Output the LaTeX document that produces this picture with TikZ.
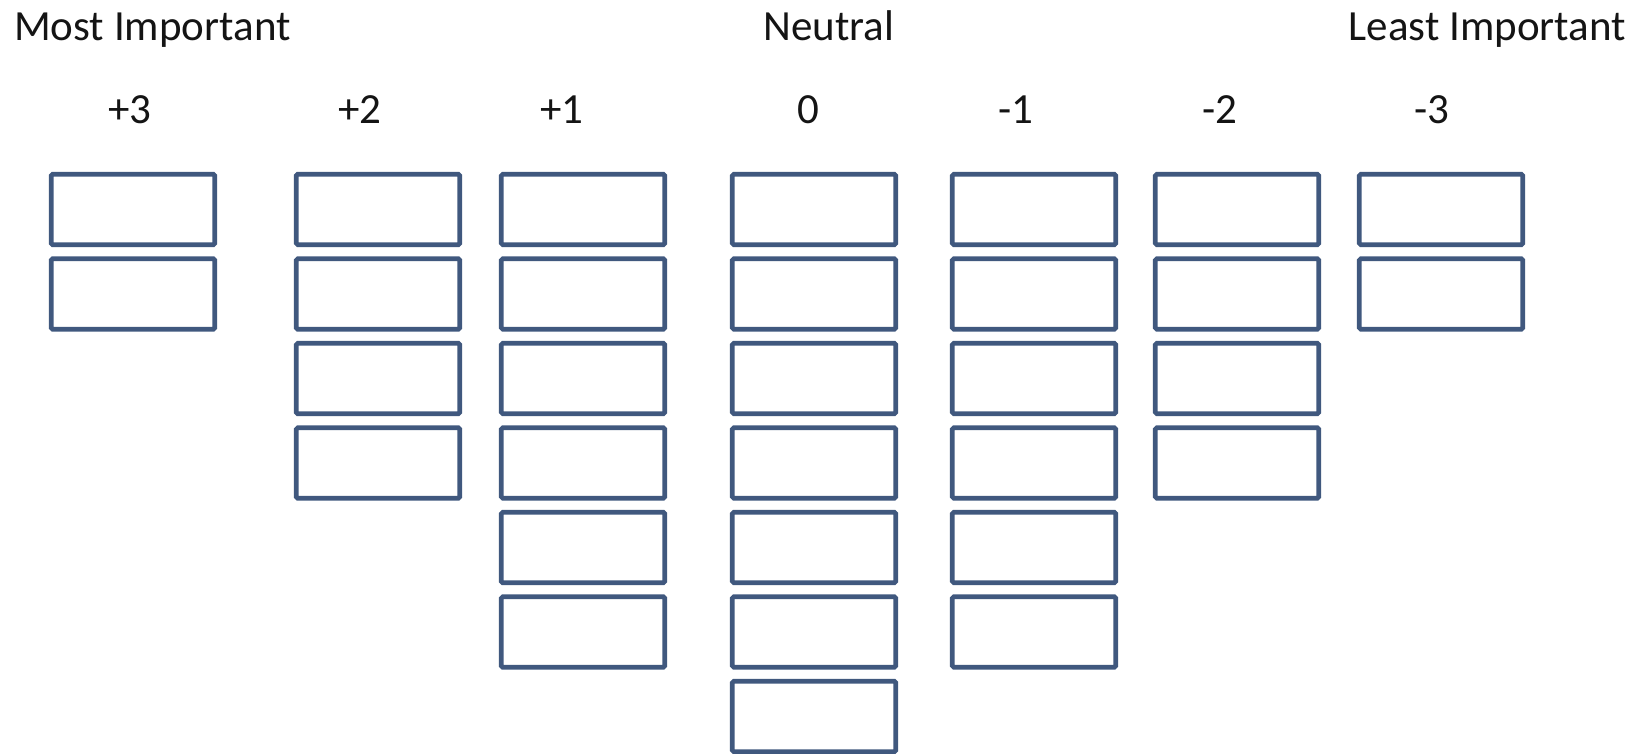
\documentclass[tikz,border=0pt]{standalone}
\usepackage{fontspec}
\setmainfont{Carlito}
\definecolor{boxblue}{RGB}{64,88,126}
\definecolor{txt}{RGB}{20,20,20}
\begin{document}
\begin{tikzpicture}[x=1pt,y=-1pt,
  slot/.style={draw=boxblue,line width=4.6pt,rounded corners=1.5pt,minimum width=163.5pt,minimum height=70.5pt,inner sep=0pt,fill=white},
  lab/.style={inner sep=0pt,anchor=base,text=txt,font=\fontsize{43}{50}\selectfont}]
\useasboundingbox[fill=white] (0,0) rectangle (1647,754);
% headings
\node[lab,anchor=base west] (most) at (14,41) {Most Important};
\node[lab] (neutral) at (829,41) {Neutral};
\node[lab,anchor=base east] (least) at (1626,41) {Least Important};
% column labels
\node[lab] (l1) at (130,124) {+3};
\node[lab] (l2) at (360,124) {+2};
\node[lab] (l3) at (562,124) {+1};
\node[lab] (l4) at (808,124) {0};
\node[lab] (l5) at (1016,124) {-1};
\node[lab] (l6) at (1220,124) {-2};
\node[lab] (l7) at (1432,124) {-3};
% boxes
\foreach \c/\x/\n in {1/133/2,2/378/4,3/583/6,4/814/7,5/1034/6,6/1237/4,7/1441/2}{
  \foreach \r in {1,...,\n}{
    \node[slot] (b\c-\r) at (\x,{209.5+84.5*(\r-1)}) {};
  }
}
\end{tikzpicture}
\end{document}
